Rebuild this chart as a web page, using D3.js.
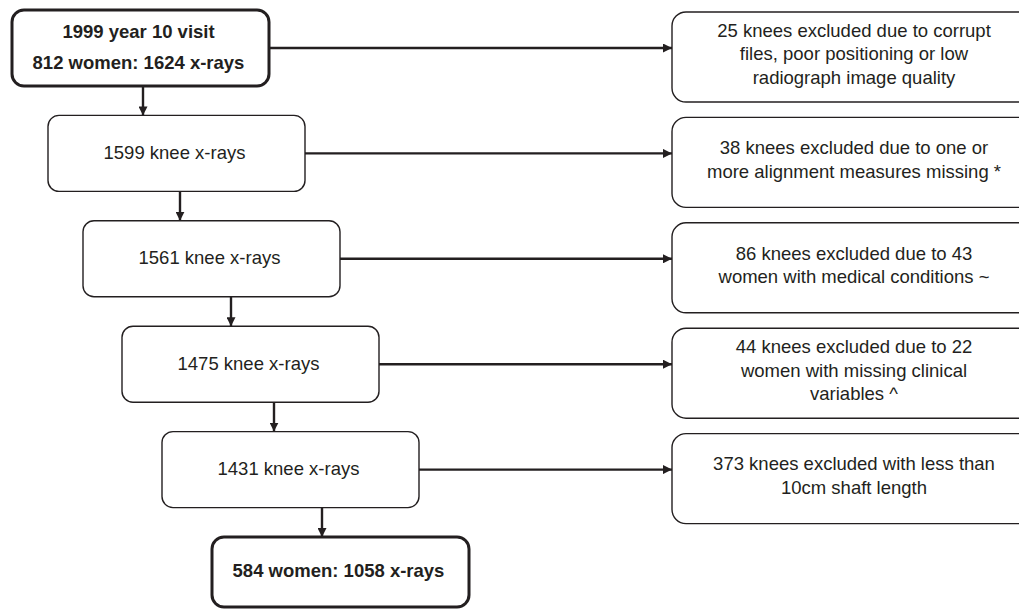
<!DOCTYPE html>
<html>
<head>
<meta charset="utf-8">
<script src="https://cdn.jsdelivr.net/npm/d3@7/dist/d3.min.js"></script>
<style>
  body { margin: 0; background: #fff; }
  svg { display: block; }
  text { font-family: "Liberation Sans", Arial, sans-serif; fill: #231f20; }
</style>
</head>
<body>
<svg class="chart"></svg>
<script>
// flow steps (main column), top to bottom
var stepLines = [
  ["1999 year 10 visit", "812 women: 1624 x-rays"],
  ["1599 knee x-rays"],
  ["1561 knee x-rays"],
  ["1475 knee x-rays"],
  ["1431 knee x-rays"],
  ["584 women: 1058 x-rays"]
];
var stepBold = [true, false, false, false, false, true];

// exclusions, one per step transition
var exclLines = [
  ["25 knees excluded due to corrupt", "files, poor positioning or low", "radiograph image quality"],
  ["38 knees excluded due to one or", "more alignment measures missing *"],
  ["86 knees excluded due to 43", "women with medical conditions ~"],
  ["44 knees excluded due to 22", "women with missing clinical", "variables ^"],
  ["373 knees excluded with less than", "10cm shaft length"]
];

// layout only: box left edges and down-arrow offsets (from next box's left)
var indent = [12, 48, 83, 122, 162, 212];
var arrowOff = [95, 97, 109, 112, 110];

var width = 1019, height = 610,
    boxW = 257, boxH = 76, lastH = 70,
    exclX = 672, exclW = 364, exclH = 90,
    ink = "#231f20";

var svg = d3.select(".chart").attr("width", width).attr("height", height);

var y = d3.scaleLinear().domain([0, stepLines.length - 1]).range([10, 537]);

svg.append("defs").append("marker")
    .attr("id", "head")
    .attr("markerUnits", "userSpaceOnUse")
    .attr("viewBox", "0 0 10 10")
    .attr("refX", 10).attr("refY", 5)
    .attr("markerWidth", 9).attr("markerHeight", 9)
    .attr("orient", "auto")
  .append("path")
    .attr("d", "M0,0L10,5L0,10Z")
    .attr("fill", ink);

var steps = stepLines.map(function(lines, i) {
  return {
    lines: lines, bold: stepBold[i],
    x: indent[i], y: y(i),
    h: i == stepLines.length - 1 ? lastH : boxH
  };
});

// vertical arrows between steps
steps.slice(1).forEach(function(d, i) {
  var prev = steps[i];
  var ax = d.x + arrowOff[i];
  svg.append("line")
      .attr("x1", ax).attr("y1", prev.y + prev.h)
      .attr("x2", ax).attr("y2", d.y)
      .attr("stroke", ink).attr("stroke-width", 2.4)
      .attr("marker-end", "url(#head)");
});

// horizontal arrows + exclusion boxes
exclLines.forEach(function(lines, i) {
  var s = steps[i];
  var ay = s.y + s.h / 2;
  svg.append("line")
      .attr("x1", s.x + boxW).attr("y1", ay)
      .attr("x2", exclX).attr("y2", ay)
      .attr("stroke", ink).attr("stroke-width", 2.4)
      .attr("marker-end", "url(#head)");

  var top = ay - 36;
  svg.append("rect")
      .attr("x", exclX).attr("y", top)
      .attr("width", exclW).attr("height", exclH)
      .attr("rx", 14).attr("ry", 14)
      .attr("fill", "#fff").attr("stroke", ink).attr("stroke-width", 1.4);

  var lh = 23.5, cy = top + exclH / 2 - 3;
  lines.forEach(function(t, j) {
    svg.append("text")
        .attr("x", exclX + exclW / 2)
        .attr("y", cy + (j - (lines.length - 1) / 2) * lh)
        .attr("dy", "0.35em")
        .attr("text-anchor", "middle")
        .style("font-size", "18.5px")
        .text(t);
  });
});

// step boxes
steps.forEach(function(d) {
  svg.append("rect")
      .attr("x", d.x).attr("y", d.y)
      .attr("width", boxW).attr("height", d.h)
      .attr("rx", d.bold ? 12 : 11).attr("ry", d.bold ? 12 : 11)
      .attr("fill", "#fff").attr("stroke", ink)
      .attr("stroke-width", d.bold ? 3 : 1.4);

  var lh = 31, cy = d.y + d.h / 2 - 1;
  d.lines.forEach(function(t, j) {
    svg.append("text")
        .attr("x", d.x + boxW / 2 - 2)
        .attr("y", cy + (j - (d.lines.length - 1) / 2) * lh)
        .attr("dy", "0.35em")
        .attr("text-anchor", "middle")
        .style("font-size", "18.5px")
        .style("font-weight", d.bold ? "bold" : "normal")
        .text(t);
  });
});
</script>
</body>
</html>
